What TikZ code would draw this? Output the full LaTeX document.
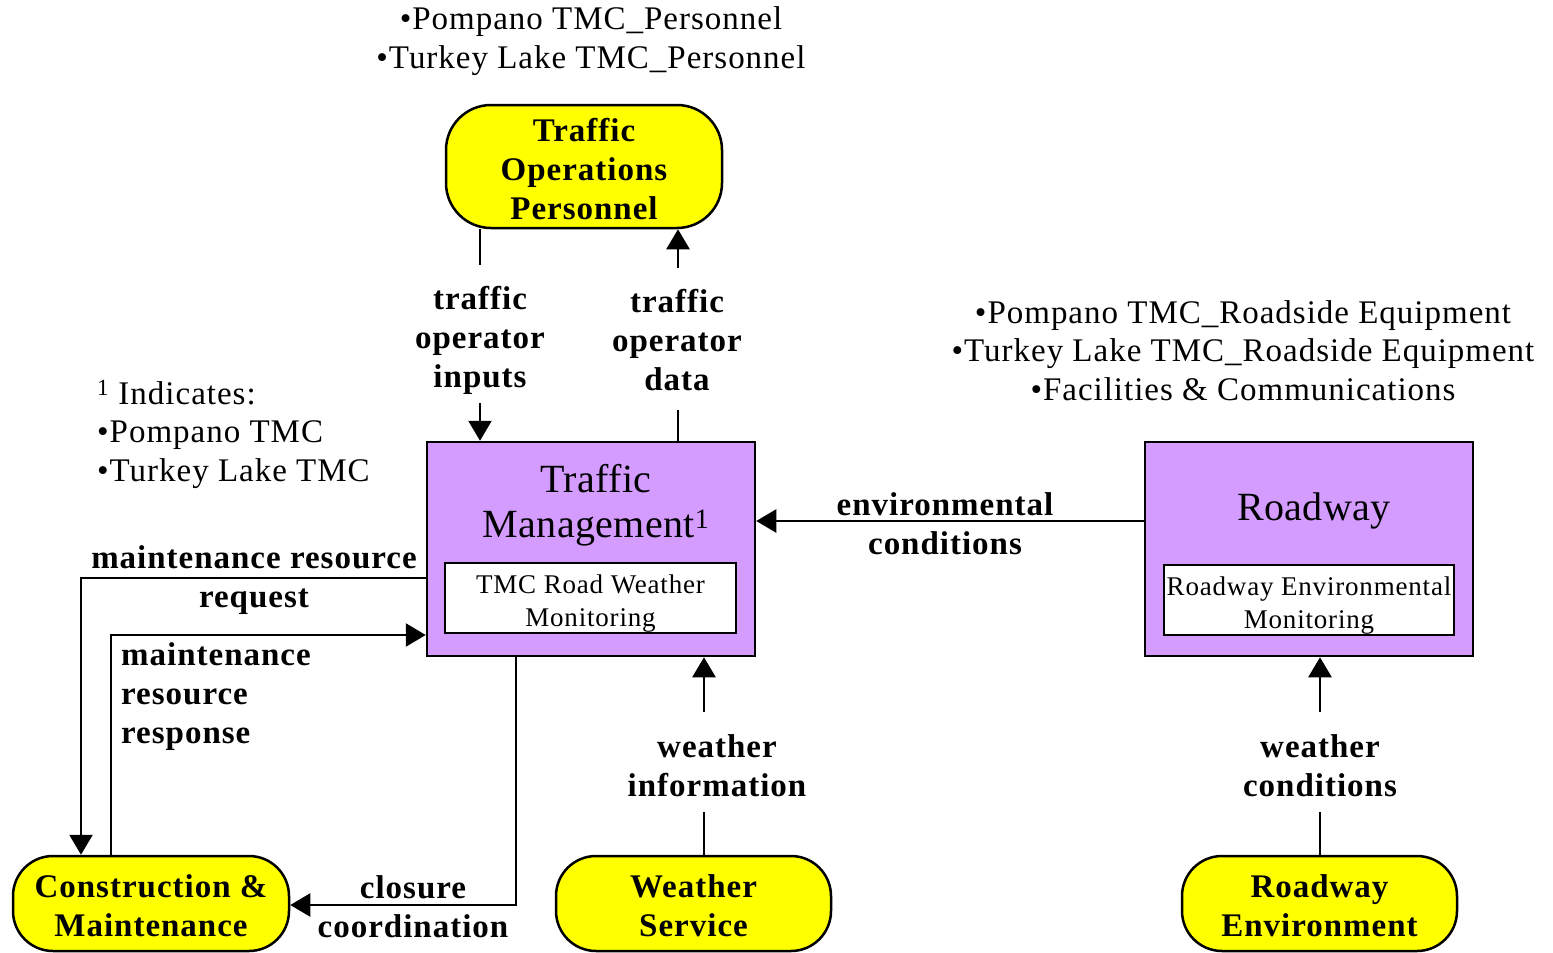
\documentclass[tikz,border=0pt]{standalone}
\usepackage{fontspec}
\setmainfont{Liberation Serif}
\newfontfamily\lsfont[LetterSpace=3]{Liberation Serif}
\newfontfamily\lsfonttight[LetterSpace=1]{Liberation Serif}
\usetikzlibrary{arrows.meta}
\definecolor{tmpurple}{RGB}{212,156,255}
\definecolor{tmyellow}{RGB}{255,255,0}
\tikzset{
  ybox/.style={draw, line width=2.5pt, fill=tmyellow, rounded corners=40pt, inner sep=0pt},
  ytxt/.style={inner sep=0pt, yshift=-2.5pt, font=\lsfont\bfseries\fontsize{33}{39}\selectfont, align=center},
  pbox/.style={draw, line width=2.5pt, fill=tmpurple, inner sep=0pt},
  wbox/.style={draw, line width=2.5pt, fill=white, inner sep=0pt},
  wtxt/.style={inner sep=0pt, yshift=-6pt, font=\lsfont\fontsize{27}{33}\selectfont, align=center},
  ttl/.style={inner sep=0pt, font=\lsfonttight\fontsize{40}{45}\selectfont, align=center},
  lbl/.style={inner sep=0pt, font=\lsfont\bfseries\fontsize{33}{39}\selectfont, align=center},
  note/.style={inner sep=0pt, font=\lsfont\fontsize{33}{38.5}\selectfont, align=center},
  conn/.style={line width=2.5pt},
  arr/.style={line width=2.5pt, -{Triangle[length=20pt,width=23pt]}}
}
\begin{document}
\begin{tikzpicture}[x=1pt,y=-1pt]
\useasboundingbox (0,0) rectangle (1553,953);
% boxes
\node[ybox, minimum width=276pt, minimum height=123pt, rounded corners=45pt,
  label={[ytxt]center:Traffic\\Operations\\Personnel}] (TOP) at (584,166.5) {};
\node[pbox, minimum width=328pt, minimum height=214pt] (TM) at (591,549) {};
\node[ttl] (TMt) at (596,505) {Traffic\\Management\textsuperscript{1}};
\node[wbox, minimum width=291pt, minimum height=70pt,
  label={[wtxt]center:TMC Road Weather\\Monitoring}] (TMi) at (590.5,598) {};
\node[pbox, minimum width=328pt, minimum height=214pt] (RW) at (1309,549) {};
\node[ttl] (RWt) at (1314,511) {Roadway};
\node[wbox, minimum width=290pt, minimum height=70pt,
  label={[wtxt]center:Roadway Environmental\\Monitoring}] (RWi) at (1309,600) {};
\node[ybox, minimum width=276pt, minimum height=95pt,
  label={[ytxt]center:Construction \&\\Maintenance}] (CM) at (151,903.5) {};
\node[ybox, minimum width=275pt, minimum height=95pt,
  label={[ytxt]center:Weather\\Service}] (WS) at (693.5,903.5) {};
\node[ybox, minimum width=275pt, minimum height=95pt,
  label={[ytxt]center:Roadway\\Environment}] (RE) at (1319.5,903.5) {};
% notes
\node[note] (n1) at (591,41) {•Pompano TMC\_Personnel\\•Turkey Lake TMC\_Personnel};
\node[note] (n2) at (1243,350.5) {•Pompano TMC\_Roadside Equipment\\•Turkey Lake TMC\_Roadside Equipment\\•Facilities \& Communications};
\node[note, align=left, anchor=west] (n3) at (97,434) {\textsuperscript{1} Indicates:\\•Pompano TMC\\•Turkey Lake TMC};
% traffic operator inputs
\coordinate (a1) at (480,265);
\coordinate (a2) at (480,403);
\draw[conn] (a1 |- TOP.south) -- (a1);
\node[lbl] (l1) at (480,340) {traffic\\operator\\inputs};
\draw[arr] (a2) -- (a2 |- TM.north);
% traffic operator data
\coordinate (b1) at (678,410);
\coordinate (b2) at (678,268);
\draw[conn] (b1 |- TM.north) -- (b1);
\node[lbl] (l2) at (677,340) {traffic\\operator\\data};
\draw[arr] (b2) -- (b2 |- TOP.south);
% environmental conditions
\coordinate (c1) at (0,521);
\draw[arr] (c1 -| RW.west) -- (c1 -| TM.east);
\node[lbl] (l3) at (945,524) {environmental\\conditions};
% maintenance resource request
\coordinate (d1) at (81,578);
\draw[arr] (d1 -| TM.west) -- (d1) -- (d1 |- CM.north);
\node[lbl] (l4) at (254,580) {maintenance resource\\request};
% maintenance resource response
\coordinate (e1) at (111,635);
\draw[arr] (e1 |- CM.north) -- (e1) -- (e1 -| TM.west);
\node[lbl, align=left, anchor=west] (l5) at (121,697) {maintenance\\resource\\response};
% closure coordination
\coordinate (f1) at (516,905);
\draw[arr] (f1 |- TM.south) -- (f1) -- (f1 -| CM.east);
\node[lbl] (l6) at (413,907) {closure\\coordination};
% weather information
\coordinate (g1) at (704,812);
\coordinate (g2) at (704,712);
\draw[conn] (g1 |- WS.north) -- (g1);
\node[lbl] (l7) at (717,765.5) {weather\\information};
\draw[arr] (g2) -- (g2 |- TM.south);
% weather conditions
\coordinate (h1) at (1320,812);
\coordinate (h2) at (1320,712);
\draw[conn] (h1 |- RE.north) -- (h1);
\node[lbl] (l8) at (1320,765.5) {weather\\conditions};
\draw[arr] (h2) -- (h2 |- RW.south);
\end{tikzpicture}
\end{document}
